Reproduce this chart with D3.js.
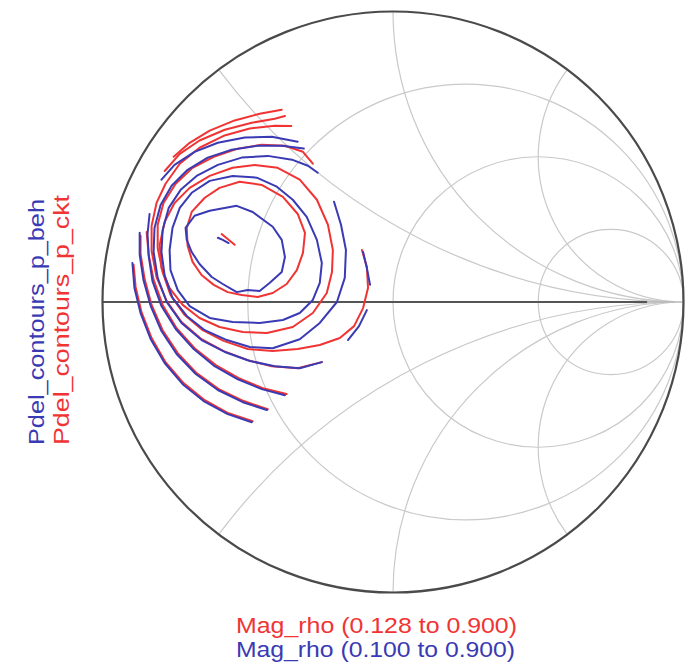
<!DOCTYPE html>
<html>
<head>
<meta charset="utf-8">
<script src="https://cdn.jsdelivr.net/npm/d3@7"></script>
<style>
  html, body { margin: 0; padding: 0; background: #fff; }
  svg { display: block; }
</style>
</head>
<body>
<svg id="chart" width="697" height="667"></svg>
<script>
// Smith chart grid values
const resistanceCircles = [1 / 3, 1, 3];
const reactanceArcs = [0.5, 1, 2, -0.5, -1, -2];

// Legend / axis texts
const behLabel = "Pdel_contours_p_beh";
const cktLabel = "Pdel_contours_p_ckt";
const cktSweep = "Mag_rho (0.128 to 0.900)";
const behSweep = "Mag_rho (0.100 to 0.900)";

// Delivered-power contours, behavioural model (reflection coefficient re, im)
const behContours = [
  [[-0.603,0.221],[-0.586,0.214],[-0.566,0.203]],
  [[-0.714,0.255],[-0.683,0.297],[-0.631,0.314],[-0.538,0.331],[-0.483,0.310],[-0.414,0.259],[-0.383,0.214],[-0.372,0.155],[-0.383,0.103],[-0.424,0.066],[-0.459,0.038],[-0.500,0.041],[-0.538,0.034],[-0.586,0.062],[-0.624,0.086],[-0.666,0.131],[-0.693,0.172],[-0.710,0.214],[-0.714,0.255]],
  [[-0.769,0.179],[-0.766,0.110],[-0.741,0.041],[-0.700,-0.014],[-0.631,-0.055],[-0.552,-0.069],[-0.459,-0.072],[-0.379,-0.062],[-0.321,-0.038],[-0.276,0.007],[-0.252,0.066],[-0.245,0.134],[-0.262,0.214],[-0.297,0.293],[-0.345,0.352],[-0.400,0.397],[-0.469,0.428],[-0.552,0.434],[-0.631,0.417],[-0.693,0.376],[-0.734,0.324],[-0.759,0.255],[-0.769,0.179]],
  [[-0.203,0.345],[-0.179,0.266],[-0.162,0.179],[-0.166,0.083],[-0.193,0.000],[-0.252,-0.072],[-0.321,-0.128],[-0.414,-0.159],[-0.493,-0.155],[-0.572,-0.131],[-0.648,-0.097],[-0.710,-0.048],[-0.759,0.014],[-0.786,0.090],[-0.797,0.172],[-0.793,0.248],[-0.772,0.324],[-0.731,0.386],[-0.676,0.434],[-0.603,0.472],[-0.521,0.497],[-0.431,0.503],[-0.348,0.490],[-0.293,0.469],[-0.259,0.445]],
  [[-0.245,-0.207],[-0.321,-0.228],[-0.407,-0.221],[-0.493,-0.203],[-0.579,-0.172],[-0.659,-0.131],[-0.728,-0.072],[-0.779,0.000],[-0.810,0.083],[-0.824,0.172],[-0.821,0.255],[-0.800,0.334],[-0.762,0.400],[-0.707,0.455],[-0.638,0.497],[-0.555,0.524],[-0.466,0.538],[-0.383,0.538],[-0.307,0.528]],
  [[-0.103,0.172],[-0.090,0.117],[-0.079,0.059]],
  [[-0.090,-0.028],[-0.117,-0.083],[-0.155,-0.131]],
  [[-0.372,-0.321],[-0.452,-0.300],[-0.534,-0.266],[-0.614,-0.221],[-0.686,-0.162],[-0.748,-0.093],[-0.797,-0.014],[-0.828,0.072],[-0.841,0.159],[-0.845,0.234],[-0.838,0.303]],
  [[-0.797,0.421],[-0.752,0.472],[-0.683,0.517],[-0.603,0.548],[-0.510,0.566],[-0.417,0.569],[-0.328,0.552]],
  [[-0.434,-0.372],[-0.517,-0.345],[-0.603,-0.303],[-0.679,-0.248],[-0.745,-0.179],[-0.797,-0.100],[-0.834,-0.014],[-0.859,0.076],[-0.872,0.162],[-0.872,0.238]],
  [[-0.486,-0.414],[-0.569,-0.386],[-0.652,-0.341],[-0.724,-0.283],[-0.786,-0.210],[-0.834,-0.128],[-0.869,-0.038],[-0.890,0.048],[-0.897,0.134]]
];

// Delivered-power contours, circuit-level model
const cktContours = [
  [[-0.590,0.234],[-0.569,0.217],[-0.545,0.197]],
  [[-0.710,0.255],[-0.693,0.310],[-0.648,0.359],[-0.597,0.393],[-0.528,0.414],[-0.452,0.403],[-0.379,0.362],[-0.328,0.303],[-0.303,0.238],[-0.310,0.169],[-0.331,0.110],[-0.366,0.062],[-0.414,0.031],[-0.466,0.017],[-0.521,0.024],[-0.569,0.034],[-0.617,0.059],[-0.659,0.093],[-0.690,0.138],[-0.707,0.193],[-0.710,0.255]],
  [[-0.803,0.197],[-0.786,0.276],[-0.752,0.341],[-0.700,0.393],[-0.631,0.434],[-0.552,0.462],[-0.476,0.472],[-0.397,0.462],[-0.321,0.421],[-0.262,0.352],[-0.224,0.266],[-0.207,0.179],[-0.210,0.103],[-0.228,0.031],[-0.276,-0.038],[-0.345,-0.086],[-0.434,-0.107],[-0.517,-0.103],[-0.597,-0.086],[-0.666,-0.055],[-0.724,-0.010],[-0.769,0.048],[-0.797,0.117],[-0.803,0.197]],
  [[-0.107,0.179],[-0.090,0.121],[-0.086,0.048],[-0.103,-0.021],[-0.134,-0.083],[-0.183,-0.124],[-0.252,-0.148],[-0.328,-0.162],[-0.414,-0.169],[-0.500,-0.162],[-0.583,-0.134],[-0.655,-0.097],[-0.717,-0.045],[-0.766,0.024],[-0.793,0.103],[-0.810,0.186],[-0.810,0.266],[-0.790,0.341],[-0.748,0.407],[-0.690,0.462],[-0.617,0.500],[-0.534,0.528],[-0.452,0.541],[-0.372,0.538],[-0.310,0.517],[-0.276,0.476]],
  [[-0.245,-0.207],[-0.328,-0.228],[-0.417,-0.221],[-0.500,-0.200],[-0.583,-0.169],[-0.659,-0.128],[-0.728,-0.069],[-0.779,0.003],[-0.814,0.086],[-0.831,0.176],[-0.831,0.262],[-0.814,0.341],[-0.783,0.407],[-0.734,0.476],[-0.666,0.531],[-0.583,0.572],[-0.493,0.597],[-0.407,0.607],[-0.350,0.606]],
  [[-0.366,-0.317],[-0.448,-0.297],[-0.531,-0.262],[-0.610,-0.217],[-0.683,-0.159],[-0.745,-0.090],[-0.793,-0.010],[-0.824,0.076],[-0.841,0.162],[-0.848,0.241]],
  [[-0.786,0.451],[-0.734,0.510],[-0.666,0.556],[-0.579,0.593],[-0.486,0.617],[-0.407,0.631],[-0.372,0.640]],
  [[-0.431,-0.369],[-0.514,-0.341],[-0.600,-0.300],[-0.676,-0.245],[-0.741,-0.176],[-0.793,-0.097],[-0.831,-0.010],[-0.855,0.079],[-0.869,0.166],[-0.869,0.228]],
  [[-0.755,0.500],[-0.700,0.548],[-0.631,0.590],[-0.545,0.625],[-0.459,0.648],[-0.383,0.662]],
  [[-0.483,-0.410],[-0.566,-0.383],[-0.648,-0.338],[-0.721,-0.279],[-0.783,-0.207],[-0.831,-0.124],[-0.866,-0.034],[-0.886,0.052],[-0.893,0.128]]
];

const colors = { beh: "#3a3ab4", ckt: "#f03434", grid: "#c9c9c9", frame: "#4a4a4a" };

const cx = 393, cy = 302, R = 290.5;
const x = d3.scaleLinear().domain([-1, 1]).range([cx - R, cx + R]);
const y = d3.scaleLinear().domain([-1, 1]).range([cy + R, cy - R]);
const len = v => x(v) - x(0);

const svg = d3.select("#chart");

svg.append("defs").append("clipPath").attr("id", "unit")
  .append("circle").attr("cx", x(0)).attr("cy", y(0)).attr("r", len(1));

const grid = svg.append("g").attr("clip-path", "url(#unit)")
  .attr("fill", "none").attr("stroke", colors.grid).attr("stroke-width", 1.2);

// constant-resistance circles
grid.selectAll("circle.r").data(resistanceCircles).join("circle")
  .attr("class", "r")
  .attr("cx", r => x(r / (1 + r)))
  .attr("cy", y(0))
  .attr("r", r => len(1 / (1 + r)));

// constant-reactance arcs, from the rim to the open-circuit point
grid.selectAll("path.x").data(reactanceArcs).join("path")
  .attr("class", "x")
  .attr("d", v => {
    const re0 = (v * v - 1) / (v * v + 1), im0 = 2 * v / (v * v + 1);
    const rad = len(1 / Math.abs(v));
    return `M${x(re0)},${y(im0)} A${rad},${rad} 0 0 ${v > 0 ? 0 : 1} ${x(1)},${y(0)}`;
  });

// real axis
svg.append("line")
  .attr("x1", x(0.875)).attr("x2", x(0.97)).attr("y1", y(0)).attr("y2", y(0))
  .attr("stroke", "#b8b8b8").attr("stroke-width", 1.5);
svg.append("line")
  .attr("x1", x(-1)).attr("x2", x(0.875)).attr("y1", y(0)).attr("y2", y(0))
  .attr("stroke", "#555").attr("stroke-width", 2.2);

// outer rim
svg.append("circle")
  .attr("cx", x(0)).attr("cy", y(0)).attr("r", len(1))
  .attr("fill", "none").attr("stroke", colors.frame).attr("stroke-width", 2.2);

const line = d3.line().x(d => x(d[0])).y(d => y(d[1]));

svg.append("g").selectAll("path").data(cktContours).join("path")
  .attr("d", line).attr("fill", "none")
  .attr("stroke", colors.ckt).attr("stroke-width", 2)
  .attr("stroke-linejoin", "round").attr("stroke-linecap", "round");

svg.append("g").selectAll("path").data(behContours).join("path")
  .attr("d", line).attr("fill", "none")
  .attr("stroke", colors.beh).attr("stroke-width", 2)
  .attr("stroke-linejoin", "round").attr("stroke-linecap", "round");

// vertical series labels
const font = "'Liberation Sans', Arial, sans-serif";
svg.append("text")
  .attr("transform", "translate(44,322) rotate(-90)")
  .attr("text-anchor", "middle").attr("font-family", font).attr("font-size", 22)
  .attr("textLength", 246).attr("lengthAdjust", "spacingAndGlyphs")
  .attr("fill", colors.beh).text(behLabel);
svg.append("text")
  .attr("transform", "translate(69,320) rotate(-90)")
  .attr("text-anchor", "middle").attr("font-family", font).attr("font-size", 22)
  .attr("textLength", 250).attr("lengthAdjust", "spacingAndGlyphs")
  .attr("fill", colors.ckt).text(cktLabel);

// sweep ranges below the chart
svg.append("text")
  .attr("x", 236).attr("y", 633)
  .attr("font-family", font).attr("font-size", 22)
  .attr("textLength", 281).attr("lengthAdjust", "spacingAndGlyphs")
  .attr("fill", colors.ckt).text(cktSweep);
svg.append("text")
  .attr("x", 236).attr("y", 657)
  .attr("font-family", font).attr("font-size", 22)
  .attr("textLength", 279).attr("lengthAdjust", "spacingAndGlyphs")
  .attr("fill", colors.beh).text(behSweep);
</script>
</body>
</html>
